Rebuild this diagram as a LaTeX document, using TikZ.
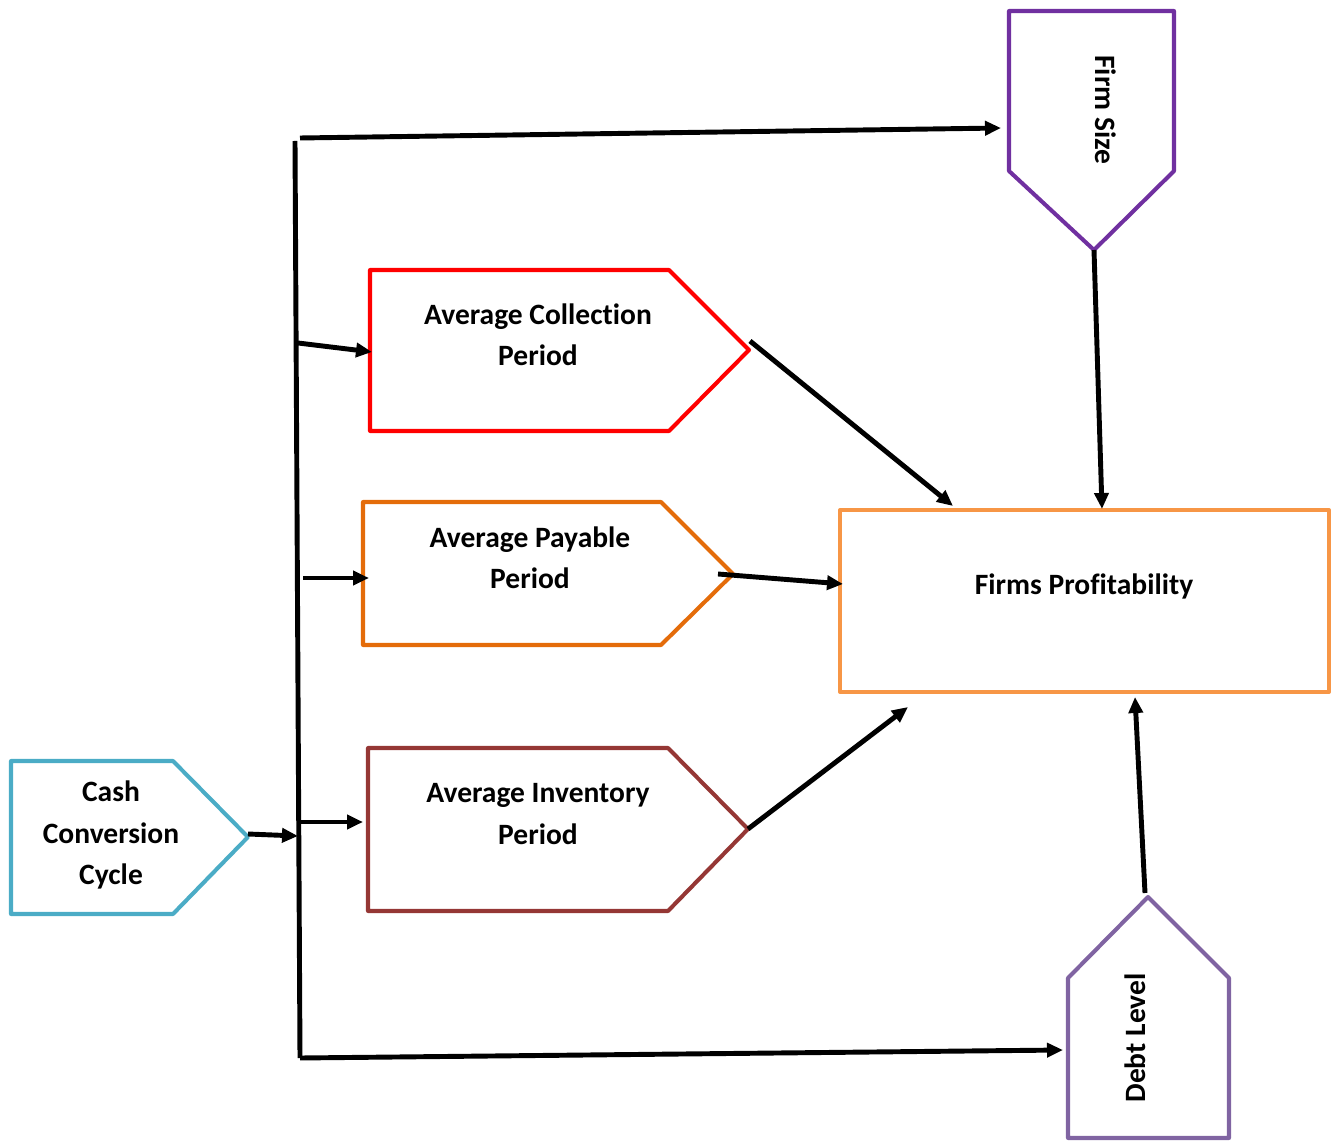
\documentclass[tikz,border=0pt]{standalone}
\usepackage{fontspec}
\setmainfont[Ligatures={NoCommon}]{Carlito}
\usetikzlibrary{arrows.meta}

\begin{document}
\begin{tikzpicture}[x=0.02cm, y=-0.02cm,
    link/.style={line width=2.8pt, -{Triangle[length=0.32cm,width=0.28cm]}},
    boxline/.style={line width=2.3pt, line join=round},
    boxtext/.style={font=\fontsize{16.8pt}{23.5pt}\selectfont\bfseries, align=center}]
    \useasboundingbox (0,0) rectangle (1338,1141);
    % boxes
    \draw[boxline, color={rgb,255:red,112;green,48;blue,160}] (1009,11) -- (1174,11) -- (1174,171) -- (1094,250) -- (1009,171) -- cycle;
    \draw[boxline, color={rgb,255:red,128;green,100;blue,162}] (1148,897) -- (1229,978) -- (1229,1138) -- (1068,1138) -- (1068,978) -- cycle;
    \draw[boxline, red] (370,270) -- (669,270) -- (749,350) -- (669,431) -- (370,431) -- cycle;
    \draw[boxline, color={rgb,255:red,228;green,108;blue,10}] (363,502) -- (661,502) -- (733,574) -- (661,645) -- (363,645) -- cycle;
    \draw[boxline, color={rgb,255:red,149;green,55;blue,53}] (368,748) -- (668,748) -- (748,829) -- (668,911) -- (368,911) -- cycle;
    \draw[boxline, color={rgb,255:red,75;green,172;blue,198}] (11,761) -- (173,761) -- (248,837) -- (173,914) -- (11,914) -- cycle;
    \draw[boxline, color={rgb,255:red,247;green,150;blue,70}] (840,510) rectangle (1329,692);
    % texts
    \node[boxtext, rotate=-90] (size) at (1106,110) {Firm Size};
    \node[boxtext, rotate=90] (debt) at (1135,1038) {Debt Level};
    \node[boxtext] (acp) at (538,335) {Average Collection\\Period};
    \node[boxtext] (app) at (530,558) {Average Payable\\Period};
    \node[boxtext] (aip) at (538,814) {Average Inventory\\Period};
    \node[boxtext] (ccc) at (111,835) {Cash\\Conversion\\Cycle};
    \node[boxtext] (prof) at (1084,586) {Firms Profitability};
    % connector points
    \coordinate (bus_top) at (295,141);
    \coordinate (bus_bot) at (300,1058);
    \coordinate (size_in) at (1001,128);
    \coordinate (debt_in) at (1063,1050);
    \coordinate (size_out) at (1094,250);
    \coordinate (debt_out) at (1145,893);
    \coordinate (acp_out) at (750,341);
    \coordinate (app_out) at (718,574);
    \coordinate (aip_out) at (748,829);
    \coordinate (ccc_out) at (248,834);
    \draw[line width=2.8pt] (bus_top) -- (bus_bot);
    \draw[link] (300,138) -- (size_in);
    \draw[link] (bus_bot) -- (debt_in);
    \draw[link] (298,343) -- (372,352);
    \draw[link] (303,578) -- (369,578);
    \draw[link] (300,822) -- (363,822);
    \draw[link] (ccc_out) -- (298,836);
    \draw[link] (acp_out) -- (953,506);
    \draw[link] (app_out) -- (843,584);
    \draw[link] (aip_out) -- (908,707);
    \draw[link] (size_out) -- (1102,509);
    \draw[link] (debt_out) -- (1135,697);
\end{tikzpicture}
\end{document}
